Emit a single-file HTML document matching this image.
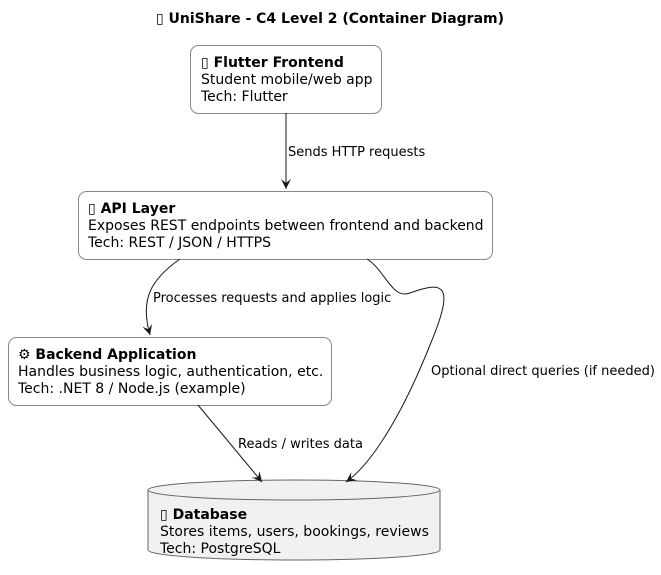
<!DOCTYPE html>
<html><head><meta charset="utf-8"><style>
html,body{margin:0;padding:0;background:#fff;}
svg{display:block;font-family:"DejaVu Sans","Liberation Sans","Noto Sans CJK SC",sans-serif;}
.b{font-weight:bold;}
</style></head><body>
<svg width="661" height="575" viewBox="0 0 661 575" xmlns="http://www.w3.org/2000/svg">
<defs><marker id="a" markerWidth="12" markerHeight="12" refX="10" refY="5" orient="auto" markerUnits="userSpaceOnUse"><path d="M0,0 L10,5 L0,10 L4,5 Z" fill="#181818"/></marker></defs>
<text x="330" y="23" text-anchor="middle" font-size="14" class="b">▯ UniShare - C4 Level 2 (Container Diagram)</text>

<rect x="190.5" y="45.5" width="191" height="68" rx="8" fill="#fff" stroke="#888"/>
<text font-size="14"><tspan x="201" y="67" class="b">▯ Flutter Frontend</tspan><tspan x="201" y="84">Student mobile/web app</tspan><tspan x="201" y="101">Tech: Flutter</tspan></text>

<rect x="78.5" y="191.5" width="414" height="68" rx="8" fill="#fff" stroke="#888"/>
<text font-size="14"><tspan x="88" y="213" class="b">▯ API Layer</tspan><tspan x="88" y="230">Exposes REST endpoints between frontend and backend</tspan><tspan x="88" y="247">Tech: REST / JSON / HTTPS</tspan></text>

<rect x="8.5" y="337.5" width="323" height="68" rx="8" fill="#fff" stroke="#888"/>
<text font-size="14"><tspan x="18" y="359" class="b">⚙ Backend Application</tspan><tspan x="18" y="376">Handles business logic, authentication, etc.</tspan><tspan x="18" y="393">Tech: .NET 8 / Node.js (example)</tspan></text>

<path d="M148,490 L148,550 A146,10 0 0 0 440,550 L440,490" fill="#f1f1f1" stroke="#666"/>
<ellipse cx="294" cy="490" rx="146" ry="10" fill="#f1f1f1" stroke="#666"/>
<text font-size="14"><tspan x="160" y="519" class="b">▯ Database</tspan><tspan x="160" y="536">Stores items, users, bookings, reviews</tspan><tspan x="160" y="553">Tech: PostgreSQL</tspan></text>

<g fill="none" stroke="#181818" stroke-width="1">
<path d="M286,113 L286,189" marker-end="url(#a)"/>
<path d="M180,259 C150,280 140,300 150,335" marker-end="url(#a)"/>
<path d="M367,259 C385,270 392,300 410,293 C445,280 455,285 430,345 C400,420 370,465 346,482" marker-end="url(#a)"/>
<path d="M198,405 L262,482" marker-end="url(#a)"/>
</g>
<g font-size="13" fill="#000">
<text x="288" y="156">Sends HTTP requests</text>
<text x="153" y="302">Processes requests and applies logic</text>
<text x="431" y="375">Optional direct queries (if needed)</text>
<text x="238" y="448">Reads / writes data</text>
</g>
</svg>
</body></html>
